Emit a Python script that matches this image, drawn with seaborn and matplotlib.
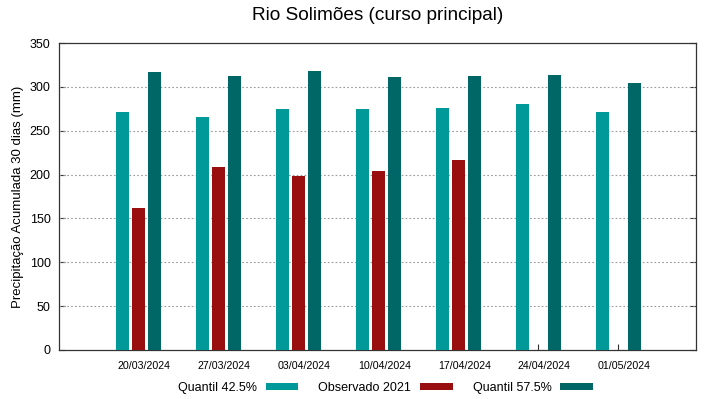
import matplotlib
matplotlib.use("Agg")
import matplotlib.pyplot as plt
import matplotlib.transforms as mtransforms
from matplotlib.patches import Patch
import seaborn as sns
import pandas as pd
import numpy as np

dates = ['20/03/2024', '27/03/2024', '03/04/2024', '10/04/2024',
         '17/04/2024', '24/04/2024', '01/05/2024']
q425 = [271, 266, 275, 275, 276, 280, 271]
obs2021 = [162, 209, 198, 204, 217, np.nan, np.nan]
q575 = [317, 312, 318, 311, 312, 314, 305]
series = ['Quantil 42.5%', 'Observado 2021', 'Quantil 57.5%']
colors = ['#009999', '#990f0f', '#006666']

df = pd.DataFrame({'data': dates * 3,
                   'valor': q425 + obs2021 + q575,
                   'serie': [s for s in series for _ in dates]})

sns.set_style('white')
plt.rcParams['font.family'] = ['Liberation Sans', 'DejaVu Sans']
plt.rcParams['text.color'] = 'black'
plt.rcParams['xtick.color'] = 'black'
plt.rcParams['ytick.color'] = 'black'
plt.rcParams['axes.labelcolor'] = 'black'

fig = plt.figure(figsize=(7.19, 3.99), dpi=100)
ax = fig.add_axes([0.082, 0.123, 0.886, 0.769])

sns.barplot(data=df, x='data', y='valor', hue='serie',
            hue_order=series, palette=colors, width=0.6, gap=0.2,
            saturation=1, linewidth=0, legend=False, ax=ax, zorder=3)

ax.set_xlim(-0.99, 6.97)
ax.set_ylim(0, 350)
ax.set_yticks(range(0, 351, 50))
for yv in range(50, 350, 50):
    ax.axhline(yv, color='#999999', lw=0.8, ls=(0, (1.5, 2)), zorder=1)

for s in ax.spines.values():
    s.set_color('#333333')
    s.set_linewidth(0.9)
ax.tick_params(axis='y', direction='in', length=4, right=True, left=True,
               labelsize=9, color='#333333', pad=6)
ax.tick_params(axis='x', direction='in', length=4, bottom=True,
               labelsize=7.7, color='#333333', pad=8)
shift = mtransforms.ScaledTranslation(6 / 100, 0, fig.dpi_scale_trans)
for lab in ax.get_xticklabels():
    lab.set_transform(lab.get_transform() + shift)

ax.set_xlabel('')
ax.set_ylabel('Precipitação Acumulada 30 dias (mm)', fontsize=9.5, labelpad=4)
fig.text(0.525, 0.96, 'Rio Solimões (curso principal)', fontsize=13.7,
         ha='center', va='center')

handles = [Patch(facecolor=c, edgecolor='none') for c in colors]
fig.legend(handles, series, loc='center', bbox_to_anchor=(0.536, 0.028),
           ncol=3, frameon=False, markerfirst=False, fontsize=9,
           handlelength=2.6, handleheight=0.45, columnspacing=1.6,
           handletextpad=0.7)

fig.savefig('out.png', dpi=100)
